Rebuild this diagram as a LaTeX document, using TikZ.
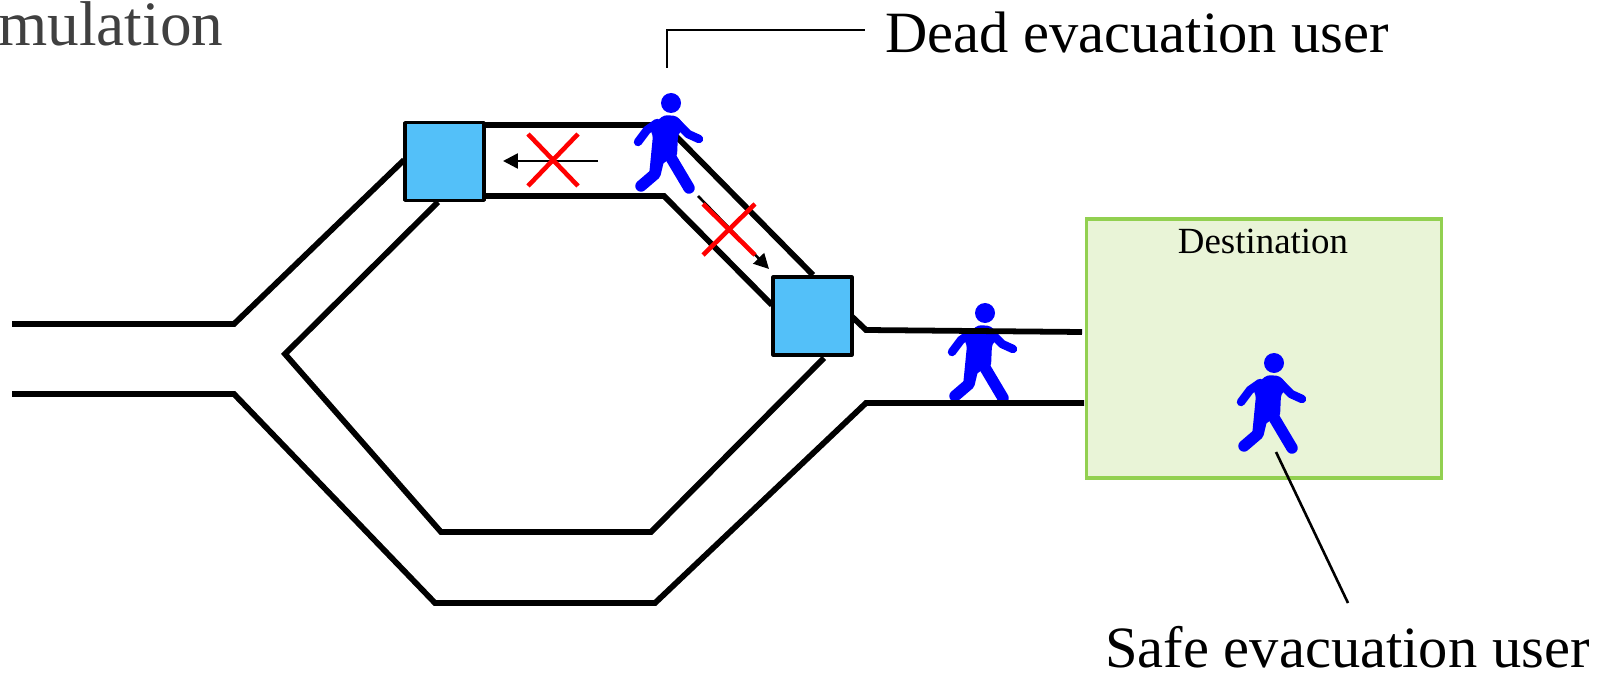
\documentclass[tikz,border=0pt]{standalone}
\usepackage{fontspec}
\setmainfont{Liberation Serif}
\usetikzlibrary{arrows.meta}
\def\px{0.5669pt}
\definecolor{walkerblue}{RGB}{0,0,255}
\definecolor{stationblue}{RGB}{83,192,249}
\definecolor{destfill}{RGB}{233,244,215}
\definecolor{destline}{RGB}{146,208,80}
\definecolor{titlegray}{RGB}{64,64,64}
\tikzset{
  road/.style={draw=black,line width=5.8*\px,line join=miter},
  station/.style={draw=black,fill=stationblue,line width=3.4*\px,minimum width=79*\px,minimum height=78*\px,inner sep=0pt,line join=round},
  dest/.style={draw=destline,fill=destfill,line width=3.2*\px,minimum width=357*\px,minimum height=260*\px,inner sep=0pt},
  leader/.style={draw=black,line width=2.6*\px},
  flow/.style={draw=black,line width=2.6*\px,-{Triangle[length=15*\px,width=15*\px]}},
  cross/.style={draw=red,line width=4.6*\px},
  big/.style={anchor=base west,inner sep=0pt,font=\fontsize{33.3pt}{36pt}\selectfont},
  limb/.style={draw=walkerblue,line cap=round,line join=round},
  walker/.pic={
    \fill[walkerblue] (0,0) circle (10);
    \fill[walkerblue,rounded corners=2] (-22,25) -- (-7,12) -- (6,13) -- (15,24) -- (7,31) -- (6,54) -- (-5,58) -- (-22,73) -- (-18,32) -- cycle;
    \draw[limb,line width=8.5*\px] (-14,20) -- (-24,27) -- (-33,39);
    \draw[limb,line width=8.5*\px] (5,19) -- (17,31) -- (28,36);
    \draw[limb,line width=11.5*\px] (-11,50) -- (-16,71) -- (-30,83);
    \draw[limb,line width=11.5*\px] (-1,53) -- (18,85);
  }
}
\begin{document}
\begin{tikzpicture}[x=0.02cm,y=-0.02cm]
\useasboundingbox (0,0) rectangle (1608,675);
\node[anchor=base west,inner sep=0pt,text=titlegray,font=\fontsize{36pt}{40pt}\selectfont] (title) at (-2,46) {mulation};
\pic at (985,313) {walker};
% roads
\draw[road] (12,324) -- (234,324) -- (404,160);
\draw[road] (485,125) -- (665,125) -- (813,275);
\draw[road] (845,310) -- (866,330) -- (1082,332);
\draw[road] (12,394) -- (234,394) -- (435,603) -- (655,603) -- (866,403) -- (1084,403);
\draw[road] (438,202) -- (285,354) -- (441,532) -- (651,532) -- (824,358);
\draw[road] (485,196) -- (664,196) -- (772,305);
% stations
\node[station] (s1) at (444.5,161.5) {};
\node[station] (s2) at (812.5,316) {};
% destination
\node[dest] (d) at (1264,348.5) {};
\node[anchor=base,inner sep=0pt,font=\fontsize{21pt}{24pt}\selectfont] (dl) at (1263,254) {Destination};
% walkers
\pic at (671,103) {walker};
\pic at (1274,363) {walker};
% flows
\coordinate (a1s) at (598,161); \coordinate (a1e) at (503,161);
\coordinate (a2s) at (698,196); \coordinate (a2e) at (769,269);
\draw[flow] (a1s) -- (a1e);
\draw[flow] (a2s) -- (a2e);
\coordinate (x1a) at (528,134); \coordinate (x1b) at (578,186);
\coordinate (x1c) at (578,134); \coordinate (x1d) at (528,186);
\coordinate (x2a) at (703,204); \coordinate (x2b) at (755,255);
\coordinate (x2c) at (755,204); \coordinate (x2d) at (703,255);
\draw[cross] (x1a) -- (x1b);
\draw[cross] (x1c) -- (x1d);
\draw[cross] (x2a) -- (x2b);
\draw[cross] (x2c) -- (x2d);
% labels
\node[big] (dead) at (885,53) {Dead evacuation user};
\node[big] (safe) at (1105,667) {Safe evacuation user};
\coordinate (l1a) at (667,68); \coordinate (l1b) at (667,30); \coordinate (l1c) at (865,30);
\draw[leader] (l1a) -- (l1b) -- (l1c);
\coordinate (l2a) at (1276,452); \coordinate (l2b) at (1348,603);
\draw[leader] (l2a) -- (l2b);
\end{tikzpicture}
\end{document}
